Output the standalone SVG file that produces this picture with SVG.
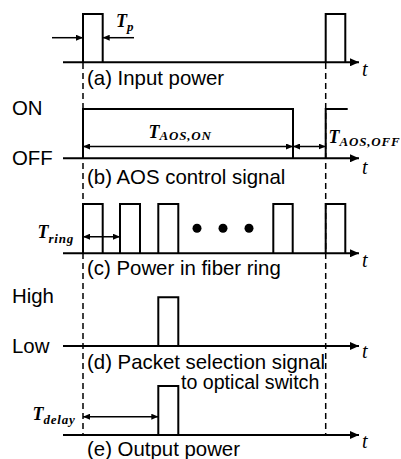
<svg xmlns="http://www.w3.org/2000/svg" width="401" height="459" viewBox="0 0 401 459">
<defs>
<marker id="ax" markerUnits="userSpaceOnUse" markerWidth="9" markerHeight="8" refX="9" refY="4" orient="auto"><path d="M0,0 L9,4 L0,8 z" fill="#000"/></marker>
<marker id="dim" markerUnits="userSpaceOnUse" markerWidth="7" markerHeight="6" refX="7" refY="3" orient="auto-start-reverse"><path d="M0,0 L7,3 L0,6 z" fill="#000"/></marker>
<style>
.axis{stroke:#000;stroke-width:2;fill:none;marker-end:url(#ax)}
.sig{stroke:#000;stroke-width:2;fill:none}
.dash{stroke:#000;stroke-width:1.5;stroke-dasharray:6,4;fill:none}
.dim{stroke:#000;stroke-width:1.5;fill:none;marker-start:url(#dim);marker-end:url(#dim)}
.one{stroke:#000;stroke-width:1.5;fill:none;marker-end:url(#dim)}
.lbl{font-family:"Liberation Sans",Arial,sans-serif;font-size:20.4px;fill:#000}
.t{font-family:"Liberation Serif","Times New Roman",serif;font-style:italic;font-size:20px;fill:#000}
.T{font-family:"Liberation Serif","Times New Roman",serif;font-style:italic;font-weight:bold;font-size:18px;fill:#000}
.sub{font-size:13px;letter-spacing:0.8px}
</style>
</defs>
<g id="connectors">
<path class="dash" d="M83,63 V435"/>
<path class="dash" d="M325.7,63 V435"/>
</g>
<g id="panel-a">
<path class="axis" d="M63,62.3 H359"/>
<path class="sig" d="M83,62.3 V14 H102.7 V62.3 M325.7,62.3 V14 H345.3 V62.3"/>
<path class="one" d="M52,37.7 H83"/>
<path class="one" d="M134,37.7 H102.7"/>
<text class="T" x="116" y="26.7">T<tspan class="sub" dy="4">p</tspan></text>
<text class="t" x="362" y="76">t</text>
<text class="lbl" x="87" y="85">(a) Input power</text>
</g>
<g id="panel-b">
<path class="axis" d="M63,158.3 H359"/>
<path class="sig" d="M83,158.3 V109 H293 V158.3 M325.7,158.3 V109 H347.7"/>
<path class="dim" d="M83,146.5 H293"/>
<path class="dim" d="M293,146.5 H325.7"/>
<text class="T" x="148.5" y="137.7">T<tspan class="sub" dy="2.5">AOS,ON</tspan></text>
<text class="T" x="328.5" y="143.3">T<tspan class="sub" dy="3">AOS,OFF</tspan></text>
<text class="lbl" x="12" y="115">ON</text>
<text class="lbl" x="12" y="165">OFF</text>
<text class="t" x="362" y="174">t</text>
<text class="lbl" x="87" y="184">(b) AOS control signal</text>
</g>
<g id="panel-c">
<path class="axis" d="M63,253.3 H359"/>
<path class="sig" d="M83,253.3 V204 H102.7 V253.3 M120,253.3 V204 H140 V253.3 M158.3,253.3 V204 H178.3 V253.3 M273.3,253.3 V204 H292.7 V253.3 M325.7,253.3 V204 H345.3 V253.3"/>
<circle cx="197" cy="228.3" r="4.5" fill="#000"/>
<circle cx="223" cy="228.3" r="4.5" fill="#000"/>
<circle cx="249" cy="228.3" r="4.5" fill="#000"/>
<path class="dim" d="M83,236.7 H120"/>
<text class="T" x="37.5" y="238.3">T<tspan class="sub" dy="4.5" letter-spacing="0">ring</tspan></text>
<text class="t" x="362" y="267">t</text>
<text class="lbl" x="87" y="275">(c) Power in fiber ring</text>
</g>
<g id="panel-d">
<path class="axis" d="M63,346 H359"/>
<path class="sig" d="M158.3,346 V297.3 H178.3 V346"/>
<text class="lbl" x="12" y="303">High</text>
<text class="lbl" x="12" y="353">Low</text>
<text class="t" x="362" y="358">t</text>
<text class="lbl" x="87" y="368.5">(d) Packet selection signal</text>
<text class="lbl" x="181" y="388.5" style="font-size:19.6px">to optical switch</text>
</g>
<g id="panel-e">
<path class="axis" d="M63,435 H359"/>
<path class="sig" d="M158.3,435 V386 H178.3 V435"/>
<path class="dim" d="M83,416.7 H158.3"/>
<text class="T" x="32.5" y="420">T<tspan class="sub" dy="3.5" letter-spacing="0">delay</tspan></text>
<text class="t" x="362" y="448">t</text>
<text class="lbl" x="87" y="456">(e) Output power</text>
</g>
</svg>
